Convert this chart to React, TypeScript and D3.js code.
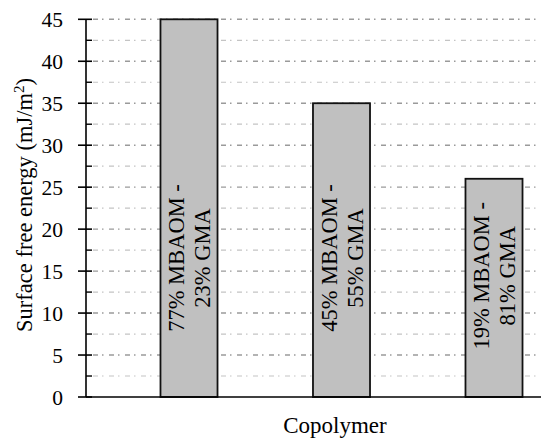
import React from "react";
import * as d3 from "d3";

const categories = ["77% MBAOM - 23% GMA", "45% MBAOM - 55% GMA", "19% MBAOM - 81% GMA"];
const labelLine1 = ["77% MBAOM -", "45% MBAOM -", "19% MBAOM -"];
const labelLine2 = ["23% GMA", "55% GMA", "81% GMA"];
const values = [45, 35, 26];
const majorTicks = [0, 5, 10, 15, 20, 25, 30, 35, 40, 45];
const minorTicks = [2.5, 7.5, 12.5, 17.5, 22.5, 27.5, 32.5, 37.5, 42.5];

const W = 541;
const H = 442;
const axisX = 86;
const top = 19.3;
const bottom = 397;
const font = "'Liberation Serif', 'Times New Roman', serif";

export default function App() {
  const y = d3.scaleLinear().domain([0, 45]).range([bottom, top]);
  const x = d3
    .scaleBand<string>()
    .domain(categories)
    .range([112.75, 570.25])
    .paddingInner(0.626)
    .paddingOuter(0.313);
  const bw = x.bandwidth();

  return (
    <svg
      width={W}
      height={H}
      style={{ position: "absolute", left: 0, top: 0, background: "#fff" }}
    >
      {minorTicks.map((t) => (
        <line
          key={"mg" + t}
          x1={axisX + 7}
          x2={W}
          y1={y(t)}
          y2={y(t)}
          stroke="#c4c4c4"
          strokeWidth={1.2}
          strokeDasharray="5,4,1.5,5.5"
        />
      ))}
      {majorTicks
        .filter((t) => t > 0)
        .map((t) => (
          <line
            key={"Mg" + t}
            x1={axisX + 7}
            x2={W}
            y1={y(t)}
            y2={y(t)}
            stroke="#9a9a9a"
            strokeWidth={1.4}
            strokeDasharray="5,4,1.5,5.5"
          />
        ))}
      {categories.map((c, i) => {
        const x0 = x(c)!;
        const yt = y(values[i]);
        const cx = x0 + bw / 2;
        const cy = Math.max(258, yt + 22 + 75);
        return (
          <g key={c}>
            <rect
              x={x0}
              y={yt}
              width={bw}
              height={bottom - yt}
              fill="#c0c0c0"
              stroke="#111"
              strokeWidth={1.8}
            />
            <text
              transform={`translate(${cx},${cy}) rotate(-90)`}
              textAnchor="middle"
              fontFamily={font}
              fontSize={22.5}
              fill="#000"
            >
              <tspan x={0} dy={-5}>{labelLine1[i]}</tspan>
              <tspan x={0} dy={26}>{labelLine2[i]}</tspan>
            </text>
          </g>
        );
      })}
      <line x1={axisX} x2={axisX} y1={top} y2={bottom} stroke="#000" strokeWidth={1.6} />
      <line x1={axisX} x2={W} y1={bottom} y2={bottom} stroke="#000" strokeWidth={1.6} />
      {majorTicks.map((t) => (
        <g key={"t" + t}>
          <line x1={axisX - 8} x2={axisX + 6} y1={y(t)} y2={y(t)} stroke="#000" strokeWidth={1.6} />
          <text
            x={63}
            y={y(t)}
            dy="0.35em"
            textAnchor="end"
            fontFamily={font}
            fontSize={21.5}
            fill="#000"
          >
            {t}
          </text>
        </g>
      ))}
      {minorTicks.map((t) => (
        <line key={"mt" + t} x1={axisX} x2={axisX + 6} y1={y(t)} y2={y(t)} stroke="#000" strokeWidth={1.4} />
      ))}
      <text
        transform={`translate(32,${205}) rotate(-90)`}
        textAnchor="middle"
        fontFamily={font}
        fontSize={22.5}
        fill="#000"
      >
        Surface free energy (mJ/m
        <tspan fontSize={15} dy={-8}>2</tspan>
        <tspan dy={8}>)</tspan>
      </text>
      <text
        x={335}
        y={433}
        textAnchor="middle"
        fontFamily={font}
        fontSize={23}
        fill="#000"
      >
        Copolymer
      </text>
    </svg>
  );
}
